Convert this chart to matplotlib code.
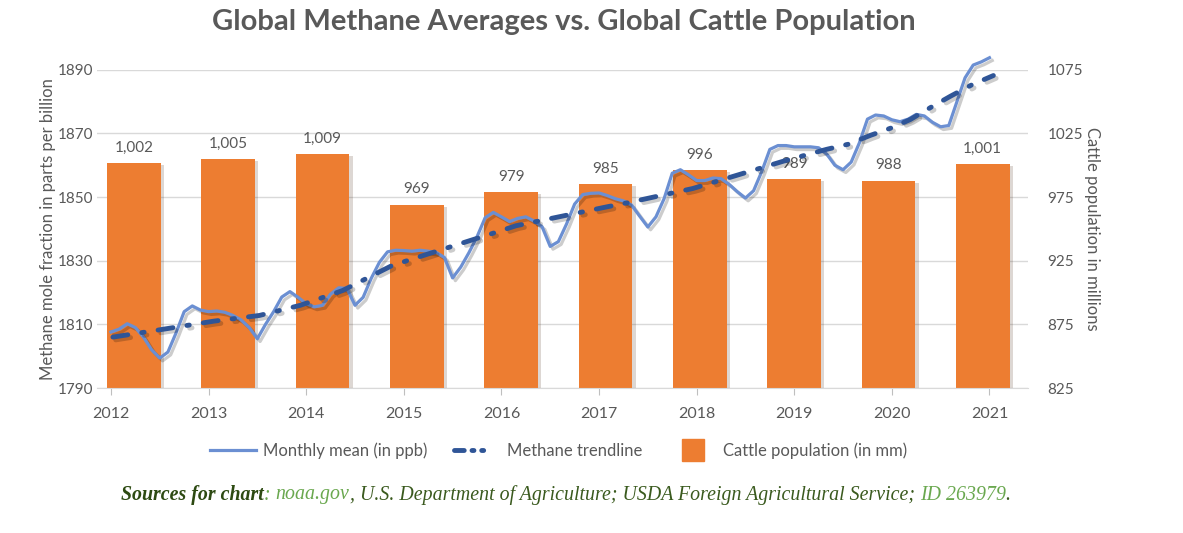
import numpy as np
import matplotlib.pyplot as plt
from matplotlib.lines import Line2D
import matplotlib.patheffects as pe

plt.rcParams['font.family'] = ['Lato', 'DejaVu Sans']

# ---- data ----
years = [2012, 2013, 2014, 2015, 2016, 2017, 2018, 2019, 2020, 2021]
cattle = [1002, 1005, 1009, 969, 979, 985, 996, 989, 988, 1001]

# monthly global methane mean, Jan 2012 .. Jan 2021 (ppb)
methane = [
    1807.6, 1808.5, 1810.2, 1809.0, 1806.0, 1802.0, 1799.4, 1801.3, 1807.3, 1814.0, 1815.8, 1814.5,
    1814.0, 1814.2, 1813.8, 1812.8, 1811.4, 1809.0, 1805.5, 1810.0, 1814.0, 1818.6, 1820.3, 1818.5,
    1816.5, 1815.5, 1816.0, 1819.5, 1821.5, 1821.3, 1816.0, 1818.5, 1824.5, 1829.5, 1832.8, 1833.3,
    1833.2, 1833.0, 1833.3, 1833.0, 1832.6, 1831.0, 1824.6, 1828.0, 1832.5, 1837.5, 1843.5, 1845.2,
    1843.8, 1842.3, 1843.3, 1843.8, 1842.5, 1840.7, 1834.5, 1836.0, 1841.5, 1847.8, 1850.8, 1851.2,
    1851.3, 1850.5, 1849.5, 1848.8, 1847.5, 1844.0, 1840.6, 1843.8, 1849.5, 1857.5, 1858.6, 1857.0,
    1855.2, 1855.2, 1856.0, 1855.8, 1854.0, 1851.7, 1849.7, 1852.0, 1858.0, 1865.0, 1866.2, 1866.2,
    1865.8, 1865.8, 1865.8, 1865.5, 1863.5, 1860.0, 1858.6, 1861.0, 1867.0, 1874.5, 1875.8, 1875.5,
    1874.3, 1873.7, 1874.5, 1876.0, 1875.5, 1873.5, 1872.1, 1872.5, 1880.0, 1887.5, 1891.5, 1892.5,
    1893.8,
]

# trendline as drawn in the reference (decimal year, ppb)
trend_t = [2012.02, 2012.50, 2013.05, 2013.52, 2013.94, 2014.37, 2014.88, 2015.47, 2015.92,
           2016.15, 2017.09, 2017.29, 2017.96, 2018.19, 2018.89, 2019.33, 2019.55, 2019.78,
           2020.00, 2020.19, 2020.41, 2020.60, 2020.82, 2021.04]
trend_v = [1806.0, 1808.3, 1811.0, 1812.8, 1816.0, 1820.6, 1828.5, 1834.3, 1838.7,
           1841.0, 1847.0, 1848.2, 1852.7, 1854.8, 1861.3, 1865.0, 1866.6, 1869.4,
           1871.8, 1874.4, 1878.4, 1881.7, 1885.3, 1888.2]

left_ticks = [1790, 1810, 1830, 1850, 1870, 1890]
right_ticks = [825, 875, 925, 975, 1025, 1075]

GRAY = '#595959'
ORANGE = '#ED7D31'
LIGHT_BLUE = '#6B8FD2'
DARK_BLUE = '#2F5597'
TREND_DASH = (3.1, 2.9, 0.5, 2.9)

# month positions in decimal years
t = years[0] + np.arange(len(methane)) / 12.0

fig = plt.figure(figsize=(11.83, 5.33), dpi=100)
pos = [0.082, 0.272, 0.787, 0.597]

# bars (right axis) underneath
axb = fig.add_axes(pos, label='bars')
bars = axb.bar(np.arange(len(years)), cattle, width=0.57, color=ORANGE, zorder=2)
for b in bars:
    b.set_path_effects([pe.SimplePatchShadow(offset=(2.5, -1.5), alpha=0.18), pe.Normal()])
axb.bar_label(bars, labels=[f"{v:,}" for v in cattle], padding=6, fontsize=11, color=GRAY)
axb.set_xlim(-0.39, 9.48)
axb.set_ylim(825, 1075)
axb.set_yticks(right_ticks)
axb.yaxis.tick_right()
axb.yaxis.set_label_position('right')
axb.tick_params(axis='y', length=0, labelsize=11, labelcolor=GRAY, pad=14)
axb.set_xticks([])
axb.yaxis.grid(True, color='#D9D9D9', linewidth=1)
axb.set_axisbelow(True)
for s in axb.spines.values():
    s.set_visible(False)
axb.set_ylabel('Cattle population in millions', rotation=270, fontsize=12,
               color=GRAY, labelpad=12)

# lines (left axis) on top
ax = fig.add_axes(pos, label='lines')
ax.set_zorder(axb.get_zorder() + 1)
ax.patch.set_visible(False)
ax.plot(t, methane, color=LIGHT_BLUE, linewidth=2.3, clip_on=False, solid_joinstyle='round',
        path_effects=[pe.SimpleLineShadow(offset=(2, -2), alpha=0.2), pe.Normal()])
ax.plot(trend_t, trend_v, color=DARK_BLUE, linewidth=3.5, dashes=TREND_DASH,
        dash_capstyle='round', clip_on=False,
        path_effects=[pe.SimpleLineShadow(offset=(2, -2), alpha=0.2), pe.Normal()])
ax.set_xlim(2011.857, 2021.395)
ax.set_ylim(1790, 1890)
ax.set_xticks(years)
ax.set_yticks(left_ticks)
ax.tick_params(axis='x', length=5, color='#BFBFBF', labelsize=11.5, labelcolor=GRAY, pad=9)
ax.tick_params(axis='y', length=0, labelsize=11, labelcolor=GRAY, pad=3)
for k in ['top', 'left', 'right']:
    ax.spines[k].set_visible(False)
ax.spines['bottom'].set_color('#D9D9D9')
ax.set_ylabel('Methane mole fraction in parts per billion', fontsize=12, color=GRAY, labelpad=1)

fig.text(0.477, 0.958, 'Global Methane Averages vs. Global Cattle Population',
         ha='center', va='center', fontsize=21, fontweight='bold', color=GRAY)

handles = [
    Line2D([], [], color=LIGHT_BLUE, linewidth=2.3),
    Line2D([], [], color=DARK_BLUE, linewidth=3.5, dashes=(2.0, 1.6, 0.4, 1.6, 0.4, 20),
           dash_capstyle='round'),
    Line2D([], [], color=ORANGE, marker='s', markersize=16, linestyle='none'),
]
leg = fig.legend(handles, ['Monthly mean (in ppb)', 'Methane trendline', 'Cattle population (in mm)'],
                 loc='center', bbox_to_anchor=(0.472, 0.154), ncol=3, frameon=False,
                 fontsize=12, handlelength=2.8, handletextpad=0.4, columnspacing=1.6)
for txt in leg.get_texts():
    txt.set_color(GRAY)

# sources line, drawn piece by piece
pieces = [
    ('Sources for chart', '#2D4A12', 'bold'),
    (': ', '#6AA84F', 'normal'),
    ('noaa.gov', '#6AA84F', 'normal'),
    (', U.S. Department of Agriculture; USDA Foreign Agricultural Service; ', '#3A5A1E', 'normal'),
    ('ID 263979', '#6AA84F', 'normal'),
    ('.', '#3A5A1E', 'normal'),
]
renderer = fig.canvas.get_renderer()
x0 = 122
y0 = 533 - 495
txts = []
x = x0
for s, c, w in pieces:
    tt = fig.text(x / 1183, y0 / 533, s, color=c, fontweight=w, fontstyle='italic',
                  family=['Liberation Serif'], fontsize=14.3, va='center', ha='left')
    bb = tt.get_window_extent(renderer)
    x += bb.width
    txts.append(tt)
total = x - x0
shift = (566 - total / 2) - x0
for tt in txts:
    px, py = tt.get_position()
    tt.set_position((px + shift / 1183, py))

fig.savefig('out.png', dpi=100)
